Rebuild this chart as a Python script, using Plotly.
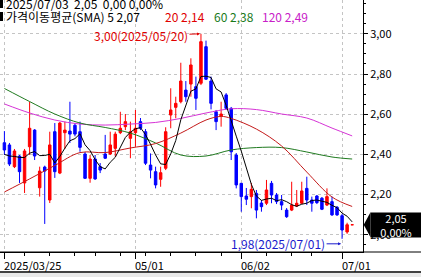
import plotly.graph_objects as go

# ---------------- data ----------------
dates = [
    "2025/03/25", "2025/03/26", "2025/03/27", "2025/03/28", "2025/03/31",
    "2025/04/01", "2025/04/02", "2025/04/03", "2025/04/04",
    "2025/04/07", "2025/04/08", "2025/04/09", "2025/04/10", "2025/04/11",
    "2025/04/14", "2025/04/15", "2025/04/16", "2025/04/17",
    "2025/04/21", "2025/04/22", "2025/04/23", "2025/04/24", "2025/04/25",
    "2025/04/28", "2025/04/29", "2025/04/30",
    "2025/05/01", "2025/05/02",
    "2025/05/05", "2025/05/06", "2025/05/07", "2025/05/08", "2025/05/09",
    "2025/05/12", "2025/05/13", "2025/05/14", "2025/05/15", "2025/05/16",
    "2025/05/19", "2025/05/20", "2025/05/21", "2025/05/22", "2025/05/23",
    "2025/05/27", "2025/05/28", "2025/05/29", "2025/05/30",
    "2025/06/02", "2025/06/03", "2025/06/04", "2025/06/05", "2025/06/06",
    "2025/06/09", "2025/06/10", "2025/06/11", "2025/06/12", "2025/06/13",
    "2025/06/16", "2025/06/17", "2025/06/18", "2025/06/20",
    "2025/06/23", "2025/06/24", "2025/06/25", "2025/06/26", "2025/06/27",
    "2025/06/30",
    "2025/07/01", "2025/07/02", "2025/07/03",
]

opens = [
    2.458, 2.447, 2.339, 2.392, 2.258, 2.438, 2.521, 2.234, 2.337, 2.173,
    2.513, 2.307, 2.508, 2.516, 2.545, 2.513, 2.402, 2.281, 2.377, 2.339,
    2.402, 2.402, 2.430, 2.508, 2.538, 2.480, 2.508, 2.563, 2.513, 2.347,
    2.314, 2.276, 2.331, 2.596, 2.634, 2.662, 2.720, 2.750, 2.737, 2.754,
    2.936, 2.765, 2.612, 2.591, 2.696, 2.629, 2.397, 2.256, 2.193, 2.190,
    2.206, 2.158, 2.157, 2.256, 2.198, 2.165, 2.123, 2.123, 2.143, 2.157,
    2.231, 2.173, 2.193, 2.182, 2.148, 2.165, 2.137, 2.095, 2.014, 2.050,
]
highs = [
    2.516, 2.457, 2.427, 2.397, 2.427, 2.662, 2.526, 2.339, 2.344, 2.513,
    2.556, 2.561, 2.563, 2.662, 2.556, 2.563, 2.412, 2.397, 2.397, 2.357,
    2.497, 2.513, 2.513, 2.612, 2.601, 2.563, 2.621, 2.581, 2.526, 2.405,
    2.339, 2.339, 2.535, 2.729, 2.687, 2.856, 2.765, 2.878, 2.787, 3.000,
    2.966, 2.787, 2.621, 2.662, 2.705, 2.636, 2.407, 2.258, 2.233, 2.258,
    2.223, 2.173, 2.273, 2.268, 2.208, 2.198, 2.133, 2.264, 2.223, 2.264,
    2.289, 2.190, 2.198, 2.188, 2.231, 2.190, 2.143, 2.104, 2.060, 2.050,
]
lows = [
    2.397, 2.342, 2.332, 2.258, 2.208, 2.397, 2.372, 2.190, 2.054, 2.158,
    2.283, 2.302, 2.427, 2.457, 2.490, 2.413, 2.278, 2.259, 2.273, 2.307,
    2.377, 2.397, 2.389, 2.501, 2.521, 2.381, 2.438, 2.521, 2.347, 2.281,
    2.231, 2.239, 2.322, 2.530, 2.580, 2.654, 2.662, 2.687, 2.621, 2.745,
    2.770, 2.624, 2.521, 2.538, 2.621, 2.372, 2.231, 2.115, 2.148, 2.132,
    2.082, 2.115, 2.148, 2.157, 2.153, 2.123, 2.084, 2.118, 2.138, 2.153,
    2.148, 2.115, 2.153, 2.123, 2.143, 2.094, 2.094, 1.980, 2.005, 2.050,
]
closes = [
    2.422, 2.352, 2.417, 2.314, 2.417, 2.530, 2.392, 2.317, 2.317, 2.447,
    2.314, 2.556, 2.521, 2.501, 2.501, 2.435, 2.281, 2.377, 2.278, 2.322,
    2.381, 2.447, 2.501, 2.530, 2.563, 2.513, 2.530, 2.530, 2.356, 2.322,
    2.248, 2.309, 2.513, 2.621, 2.654, 2.765, 2.687, 2.845, 2.679, 2.961,
    2.774, 2.654, 2.563, 2.601, 2.629, 2.413, 2.248, 2.190, 2.177, 2.226,
    2.123, 2.140, 2.223, 2.198, 2.165, 2.148, 2.090, 2.148, 2.157, 2.218,
    2.173, 2.157, 2.160, 2.127, 2.190, 2.099, 2.099, 2.024, 2.050, 2.050,
]

# 5-day SMA values before enough visible closes exist
ma5_head = [2.400, 2.392, 2.390, 2.385]

# longer SMAs at sample bars
ma20_idx = [0, 5, 10, 15, 20, 25, 30, 35, 40, 43, 45, 50, 55, 60, 65, 69]
ma20_val = [2.213, 2.278, 2.345, 2.409, 2.409, 2.432, 2.454, 2.506, 2.571,
            2.589, 2.579, 2.526, 2.442, 2.312, 2.188, 2.141]
ma60_idx = [0, 5, 10, 15, 20, 25, 30, 35, 40, 45, 50, 55, 60, 65, 69]
ma60_val = [2.728, 2.663, 2.601, 2.556, 2.534, 2.506, 2.457, 2.397, 2.392,
            2.422, 2.434, 2.434, 2.412, 2.387, 2.377]
ma120_idx = [0, 5, 10, 15, 20, 25, 30, 35, 40, 45, 50, 55, 60, 65, 69]
ma120_val = [2.651, 2.606, 2.571, 2.551, 2.546, 2.551, 2.559, 2.579, 2.606,
             2.627, 2.623, 2.601, 2.581, 2.531, 2.492]

tick_idx = [0, 26, 47, 67]
tick_text = ["2025/03/25", "05/01", "06/02", "07/01"]
minor_idx = [4, 9, 14, 18, 23, 28, 33, 38, 43, 52, 57, 61]

header1 = "2025/07/03  2,05  0,00 0,00%"
legend_parts = [("가격이동평균(SMA) 5 2,07", "#000000"),
                ("20 2,14", "#e00000"),
                ("60 2,38", "#1a7a1a"),
                ("120 2,49", "#c820c8")]
max_label = "3,00(2025/05/20)"
min_label = "1,98(2025/07/01)"
last_label = "2,05<br>0,00%"

# ---------------- derived ----------------
n = len(closes)
idx = list(range(n))
ma5 = ma5_head + [sum(closes[i - 4:i + 1]) / 5 for i in range(4, n)]

# ---------------- geometry ----------------
W, H = 421, 277
ML, MR, MT, MB = 0, 58, 0, 25
PW = W - ML - MR          # 363
PH = H - MT - MB          # 252
px_per_bar = 5.04
x0 = -4.4 / px_per_bar
x1 = x0 + PW / px_per_bar
ppu = 201.0               # pixels per price unit
ytop = 3.0 + 33.8 / ppu
ybot = ytop - PH / ppu

FONT = "Noto Sans CJK KR"

fig = go.Figure()

fig.add_trace(go.Candlestick(
    x=idx, open=opens, high=highs, low=lows, close=closes,
    increasing=dict(line=dict(color="#ff0000", width=1), fillcolor="#ff0000"),
    decreasing=dict(line=dict(color="#0000ff", width=1), fillcolor="#0000ff"),
    whiskerwidth=0, showlegend=False, hoverinfo="skip",
))

fig.add_trace(go.Scatter(x=ma120_idx, y=ma120_val, mode="lines",
                         line=dict(color="#d633d6", width=1, shape="spline"),
                         showlegend=False, hoverinfo="skip"))
fig.add_trace(go.Scatter(x=ma60_idx, y=ma60_val, mode="lines",
                         line=dict(color="#1f7a1f", width=1, shape="spline"),
                         showlegend=False, hoverinfo="skip"))
fig.add_trace(go.Scatter(x=ma20_idx, y=ma20_val, mode="lines",
                         line=dict(color="#c41a1a", width=1, shape="spline"),
                         showlegend=False, hoverinfo="skip"))
fig.add_trace(go.Scatter(x=idx, y=ma5, mode="lines",
                         line=dict(color="#000000", width=1),
                         showlegend=False, hoverinfo="skip"))

ann = []
# header lines
ann.append(dict(xref="paper", yref="paper", x=4 / PW, y=1 - 3.5 / PH, text=header1,
                showarrow=False, xanchor="left", yanchor="middle",
                font=dict(family=FONT, size=12, color="#000000")))
xs = [4, 163, 212, 260]
for (t, c), xp in zip(legend_parts, xs):
    ann.append(dict(xref="paper", yref="paper", x=xp / PW, y=1 - 17 / PH, text=t,
                    showarrow=False, xanchor="left", yanchor="middle",
                    font=dict(family=FONT, size=12, color=c)))

# max / min markers
imax = highs.index(max(highs))
imin = lows.index(min(lows))
ann.append(dict(x=idx[imax], y=highs[imax], xref="x", yref="y", text=max_label,
                showarrow=True, ax=-60, ay=2, arrowhead=2, arrowsize=0.6,
                arrowwidth=1, arrowcolor="#e00000", standoff=1,
                font=dict(family=FONT, size=12, color="#e00000")))
ann.append(dict(x=idx[imin], y=lows[imin], xref="x", yref="y", text=min_label,
                showarrow=True, ax=-64, ay=0, yshift=-5, arrowhead=2, arrowsize=0.6,
                arrowwidth=1, arrowcolor="#1a1acc", standoff=1,
                font=dict(family=FONT, size=12, color="#1a1acc")))

# x-axis labels (left-aligned at their ticks, as in the reference)
for ti, tt in zip(tick_idx, tick_text):
    ann.append(dict(x=ti, xref="x", y=-3 / PH, yref="paper", text=tt,
                    showarrow=False, xanchor="left", yanchor="top", xshift=-2,
                    font=dict(family=FONT, size=11, color="#000000")))

# last price box (annotation box sits above the axis labels, like the reference)
ann.append(dict(xref="paper", yref="y", x=(PW + 7) / PW, y=closes[-1], text=last_label,
                showarrow=False, xanchor="left", yanchor="middle",
                width=50, height=24, borderpad=0, bgcolor="#000000",
                align="center",
                font=dict(family=FONT, size=11, color="#ffffff")))

shapes = []
# small black markers before the header lines
for yy0, yy1 in [(0, 8), (12, 21)]:
    shapes.append(dict(type="rect", xref="paper", yref="paper",
                       x0=0, x1=3 / PW, y0=1 - yy1 / PH, y1=1 - yy0 / PH,
                       fillcolor="#000000", line=dict(width=0)))
# arrow tip of the last price box
h = 12.5 / ppu
tip = 7.5 / PW
lp = closes[-1]
shapes.append(dict(type="path", xref="paper", yref="y",
                   path=f"M 1.002,{lp} L {1 + tip},{lp + h} L {1 + tip},{lp - h} Z",
                   fillcolor="#000000", line=dict(width=0), layer="above"))
# axis line continued under the price axis and bottom frame line
shapes.append(dict(type="line", xref="paper", yref="paper", x0=0, x1=W / PW,
                   y0=0, y1=0, line=dict(color="#000000", width=1)))
shapes.append(dict(type="line", xref="paper", yref="paper", x0=0, x1=W / PW,
                   y0=-20 / PH, y1=-20 / PH, line=dict(color="#000000", width=1.5)))
shapes.append(dict(type="rect", xref="paper", yref="paper", x0=0, x1=W / PW,
                   y0=-25 / PH, y1=-21 / PH, fillcolor="#e8e8e8", line=dict(width=0)))

fig.update_layout(
    width=W, height=H,
    margin=dict(l=ML, r=MR, t=MT, b=MB, pad=0),
    paper_bgcolor="#ffffff", plot_bgcolor="#ffffff",
    separators=",.",
    showlegend=False,
    annotations=ann, shapes=shapes,
    font=dict(family=FONT, size=11, color="#000000"),
    xaxis=dict(
        range=[x0, x1], rangeslider=dict(visible=False),
        tickmode="array", tickvals=tick_idx, ticktext=["" for _ in tick_idx],
        ticks="outside", ticklen=6, tickcolor="#000000", tickwidth=1,
        showgrid=True, gridcolor="#c4c4c4", griddash="3px,3px", gridwidth=1,
        showline=True, linecolor="#000000", linewidth=1,
        zeroline=False, fixedrange=True,
        minor=dict(tickmode="array", tickvals=minor_idx, ticks="outside",
                   ticklen=3, tickcolor="#000000", showgrid=False),
    ),
    yaxis=dict(
        range=[ybot, ytop], side="right",
        tickmode="linear", tick0=2.0, dtick=0.2, tickformat=".2f",
        ticks="outside", ticklen=4, tickcolor="#000000",
        showgrid=True, gridcolor="#c4c4c4", griddash="3px,3px", gridwidth=1,
        showline=True, linecolor="#000000", linewidth=1,
        zeroline=False, fixedrange=True,
        tickfont=dict(family=FONT, size=11, color="#000000"),
        minor=dict(dtick=0.05, ticks="outside", ticklen=2, tickcolor="#000000",
                   showgrid=False),
    ),
)

fig.write_html("out.html")
